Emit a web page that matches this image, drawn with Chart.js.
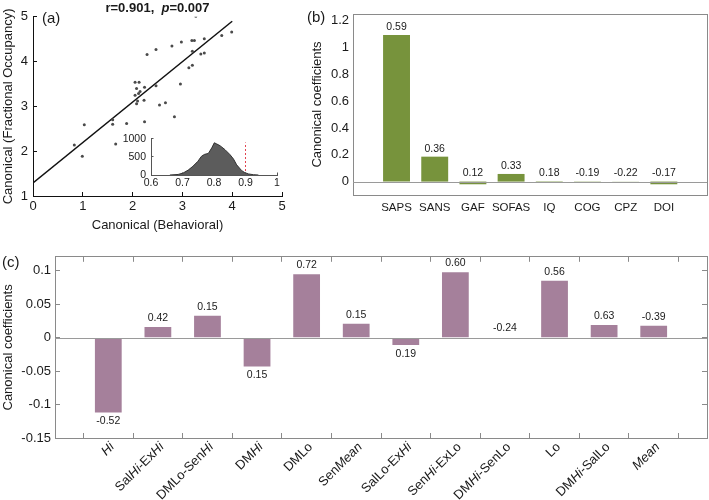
<!DOCTYPE html>
<html>
<head>
<meta charset="UTF-8">
<title>Canonical correlation</title>
<script src="https://cdn.jsdelivr.net/npm/chart.js@4.4.0/dist/chart.umd.min.js"></script>
<style>
  body { margin: 0; background: #fff; }
  #wrap { position: relative; width: 709px; height: 500px; overflow: hidden; }
  canvas { position: absolute; }
  .tag { position: absolute; font: 15px 'Liberation Sans', Arial, sans-serif; line-height: 17px; color: #1a1a1a; }
</style>
</head>
<body>
<div id="wrap">
  <canvas id="scatA" width="300" height="240" style="left:0;top:0"></canvas>
  <canvas id="histA" width="172" height="66" style="left:118px;top:125px"></canvas>
  <canvas id="barB" width="409" height="240" style="left:300px;top:0"></canvas>
  <canvas id="barC" width="709" height="260" style="left:0;top:240px"></canvas>
  <div class="tag" style="left:42px;top:9px">(a)</div>
  <div class="tag" style="left:307px;top:8px">(b)</div>
  <div class="tag" style="left:2px;top:253px">(c)</div>
</div>

<script>
// ---- data ----
var scatterX = [3.27, 3.99, 3.79, 3.44, 3.19, 3.24, 2.98, 2.79, 2.47, 2.29, 3.44, 3.37, 3.20, 3.20, 3.13, 2.96,
  2.05, 2.13, 2.08, 2.24, 2.47, 2.15, 2.12, 2.05, 2.23, 2.08, 2.10, 2.66, 2.54, 2.84, 2.24, 1.88, 1.60, 1.60,
  1.03, 1.66, 0.83, 0.99];
var scatterY = [5.01, 4.66, 4.58, 4.51, 4.47, 4.47, 4.44, 4.35, 4.27, 4.16, 4.19, 4.17, 4.23, 3.92, 3.86, 3.50,
  3.54, 3.54, 3.40, 3.43, 3.46, 3.33, 3.29, 3.25, 3.14, 3.06, 3.12, 3.08, 3.03, 2.77, 2.66, 2.62, 2.70, 2.60,
  2.59, 2.16, 2.14, 1.89];
var fitX = [0, 4];
var fitY = [1.29, 4.90];
var ticksAx = [0, 1, 2, 3, 4, 5];
var ticksAy = [1, 2, 3, 4, 5];

var histX = [0.66, 0.686, 0.702, 0.718, 0.733, 0.749, 0.76, 0.77, 0.782, 0.793, 0.801, 0.808, 0.819,
  0.835, 0.851, 0.862, 0.872, 0.888, 0.898, 0.909, 0.925, 0.941];
var histY = [0, 15, 55, 135, 240, 380, 515, 570, 595, 750, 890, 860, 810, 700, 560, 440, 280, 120, 65, 30, 8, 0];
var observedR = 0.9;
var ticksHx = [0.6, 0.7, 0.8, 0.9, 1];
var ticksHy = [0, 500, 1000];

var catsB = ["SAPS", "SANS", "GAF", "SOFAS", "IQ", "COG", "CPZ", "DOI"];
var valsB = [1.093, 0.186, -0.02, 0.057, -0.003, 0.002, 0.001, -0.02];
var textB = ["0.59", "0.36", "0.12", "0.33", "0.18", "-0.19", "-0.22", "-0.17"];
var ticksBy = [0, 0.2, 0.4, 0.6, 0.8, 1, 1.2];

var catsC = ["Hi", "SalHi-ExHi", "DMLo-SenHi", "DMHi", "DMLo", "SenMean", "SalLo-ExHi", "SenHi-ExLo",
  "DMHi-SenLo", "Lo", "DMHi-SalLo", "Mean"];
var valsC = [-0.112, 0.016, 0.033, -0.043, 0.095, 0.021, -0.011, 0.098, 0.0005, 0.085, 0.019, 0.018];
var textC = ["-0.52", "0.42", "0.15", "0.15", "0.72", "0.15", "0.19", "0.60", "-0.24", "0.56", "0.63", "-0.39"];
var ticksCy = [-0.15, -0.1, -0.05, 0, 0.05, 0.1];

// ---- helpers ----
var FONT = "'Liberation Sans', Arial, sans-serif";
var INK = '#1a1a1a';
var BOX = '#8a8a8a';
Chart.defaults.font.family = FONT;
Chart.defaults.color = INK;
Chart.defaults.animation = false;

function setTicks(vals) {
  return function (scale) { scale.ticks = vals.map(function (v) { return { value: v }; }); };
}
function fixWidth(w) { return function (scale) { scale.width = w; }; }
function fixHeight(h) { return function (scale) { scale.height = h; }; }
function plain(v) { return String(v); }
function positions(list) { return list.map(function (v, i) { return i + 1; }); }
function xyPairs(xs, ys) { return xs.map(function (v, i) { return { x: v, y: ys[i] }; }); }
function indexPairs(ys) { return ys.map(function (v, i) { return { x: i + 1, y: v }; }); }

// grid settings that give only short inward tick marks (negative tick length)
function inwardTicks(color, len) {
  return { display: len > 0, drawOnChartArea: false, drawTicks: len > 0, tickLength: -len, color: color };
}
// empty axis on the far side, used only for the box line and its tick marks
function sideAxis(position, min, max, vals, color, len) {
  var s = {
    type: 'linear', position: position, min: min, max: max, offset: false,
    afterBuildTicks: setTicks(vals),
    grid: inwardTicks(color, len), border: { display: true, color: color },
    ticks: { display: false }
  };
  s.afterFit = (position === 'top') ? fixHeight(0) : fixWidth(0);
  return s;
}

// draws text where some words are italic
function drawRich(ctx, text, x, y, size, weight, italics, align) {
  var re = new RegExp('(' + italics.join('|') + ')');
  var parts = text.split(re).filter(function (s) { return s; });
  var fonts = parts.map(function (p) {
    return (italics.indexOf(p) >= 0 ? 'italic ' : '') + weight + ' ' + size + 'px ' + FONT;
  });
  var widths = parts.map(function (p, k) { ctx.font = fonts[k]; return ctx.measureText(p).width; });
  var total = widths.reduce(function (a, b) { return a + b; }, 0);
  var cx = align === 'right' ? x - total : (align === 'center' ? x - total / 2 : x);
  ctx.textAlign = 'left';
  ctx.textBaseline = 'middle';
  parts.forEach(function (p, k) { ctx.font = fonts[k]; ctx.fillText(p, cx, y); cx += widths[k]; });
}

// gray line at y = 0 across the plot
var zeroLine = {
  id: 'zeroLine',
  afterDraw: function (chart, args, o) {
    if (!o.color) return;
    var ctx = chart.ctx, a = chart.chartArea;
    var zy = Math.round(chart.scales.y.getPixelForValue(0)) + 0.5;
    ctx.save();
    ctx.strokeStyle = o.color;
    ctx.lineWidth = 1;
    ctx.beginPath(); ctx.moveTo(a.left, zy); ctx.lineTo(a.right, zy); ctx.stroke();
    ctx.restore();
  }
};

// numbers written next to each bar
var valueLabels = {
  id: 'valueLabels',
  afterDraw: function (chart, args, o) {
    if (!o.texts) return;
    var ctx = chart.ctx;
    var meta = chart.getDatasetMeta(0);
    ctx.save();
    ctx.fillStyle = INK;
    ctx.font = o.size + 'px ' + FONT;
    ctx.textAlign = 'center';
    ctx.textBaseline = 'middle';
    meta.data.forEach(function (bar, i) {
      var v = chart.data.datasets[0].data[i].y;
      var yy = (v < 0 && o.below) ? Math.max(bar.y, bar.base) + o.gap : Math.min(bar.y, bar.base) - o.gap;
      ctx.fillText(o.texts[i], bar.x, yy);
    });
    ctx.restore();
  }
};

// rotated category labels with italic parts
var richTicks = {
  id: 'richTicks',
  afterDraw: function (chart, args, o) {
    if (!o.labels) return;
    var ctx = chart.ctx, a = chart.chartArea, x = chart.scales.x;
    ctx.save();
    ctx.fillStyle = INK;
    o.labels.forEach(function (lab, i) {
      var px = x.getPixelForValue(i + 1);
      ctx.save();
      ctx.translate(px + o.dx, a.bottom + o.dy);
      ctx.rotate(-Math.PI / 4);
      drawRich(ctx, lab, 0, 0, o.size, 'normal', o.italics, 'right');
      ctx.restore();
    });
    ctx.restore();
  }
};

// title above panel (a)
var richTitle = {
  id: 'richTitle',
  afterDraw: function (chart, args, o) {
    if (!o.text) return;
    var ctx = chart.ctx, a = chart.chartArea;
    ctx.save();
    ctx.fillStyle = INK;
    drawRich(ctx, o.text, (a.left + a.right) / 2, a.top - o.gap, o.size, 'bold', o.italics, 'center');
    ctx.restore();
  }
};

Chart.register(zeroLine, valueLabels, richTicks, richTitle);

// ---- (a) scatter with fitted line ----
new Chart('scatA', {
  type: 'scatter',
  data: {
    datasets: [{
      data: xyPairs(scatterX, scatterY),
      pointRadius: 1.5, pointBackgroundColor: '#4a4a4a', pointBorderWidth: 0
    }, {
      data: xyPairs(fitX, fitY),
      showLine: true, pointRadius: 0, borderColor: '#111', borderWidth: 1.5
    }]
  },
  options: {
    responsive: false,
    layout: { padding: { top: 15, right: 18, left: 0, bottom: 0 } },
    plugins: {
      legend: { display: false }, tooltip: { enabled: false },
      richTitle: { text: 'r=0.901,  p=0.007', italics: ['p'], size: 13, gap: 8.5 }
    },
    scales: {
      x: {
        type: 'linear', min: 0, max: 5, afterBuildTicks: setTicks(ticksAx), afterFit: fixHeight(44),
        grid: inwardTicks('#111', 4), border: { display: true, color: '#111' },
        ticks: { font: { size: 13 }, padding: 7, callback: plain },
        title: { display: true, text: 'Canonical (Behavioral)', font: { size: 13 }, padding: { top: 0, bottom: 7 } }
      },
      y: {
        min: 1, max: 5, afterBuildTicks: setTicks(ticksAy), afterFit: fixWidth(33),
        grid: inwardTicks('#111', 4), border: { display: true, color: '#111' },
        ticks: { font: { size: 13 }, padding: 9, callback: plain },
        title: { display: true, text: 'Canonical (Fractional Occupancy)', font: { size: 13 }, padding: { top: 1, bottom: 0 } }
      }
    }
  }
});

// ---- (a) inset: null distribution ----
new Chart('histA', {
  type: 'line',
  data: {
    datasets: [{
      data: xyPairs(histX, histY),
      fill: 'origin', backgroundColor: '#5c5c5c', borderColor: '#333', borderWidth: 1, pointRadius: 0
    }, {
      data: [{ x: observedR, y: 0 }, { x: observedR, y: 900 }],
      borderColor: '#e2434f', borderWidth: 1, borderDash: [2, 2], pointRadius: 0
    }]
  },
  options: {
    responsive: false,
    layout: { padding: { top: 8, right: 13, left: 0, bottom: 0 } },
    plugins: { legend: { display: false }, tooltip: { enabled: false } },
    scales: {
      x: {
        type: 'linear', min: 0.6, max: 1, afterBuildTicks: setTicks(ticksHx), afterFit: fixHeight(16),
        grid: inwardTicks('#555', 2.5), border: { display: true, color: '#555' },
        ticks: { font: { size: 10.5 }, padding: 4.5, callback: plain }
      },
      y: {
        min: 0, max: 1000, afterBuildTicks: setTicks(ticksHy), afterFit: fixWidth(33),
        grid: inwardTicks('#555', 2.5), border: { display: true, color: '#555' },
        ticks: { font: { size: 10.5 }, padding: 7.5, callback: plain }
      }
    }
  }
});

// ---- (b) clinical canonical coefficients ----
new Chart('barB', {
  type: 'bar',
  data: {
    datasets: [{
      data: indexPairs(valsB),
      backgroundColor: '#77933c', categoryPercentage: 1, barPercentage: 0.705
    }]
  },
  options: {
    responsive: false,
    layout: { padding: { top: 14, right: 2, left: 0, bottom: 0 } },
    plugins: {
      legend: { display: false }, tooltip: { enabled: false },
      zeroLine: { color: '#9a9a9a' },
      valueLabels: { texts: textB, size: 10.5, gap: 8, below: false }
    },
    scales: {
      x: {
        type: 'linear', offset: false, min: -0.14, max: 9.13, afterBuildTicks: setTicks(positions(catsB)),
        afterFit: fixHeight(45), grid: inwardTicks(BOX, 0), border: { display: true, color: BOX },
        ticks: { font: { size: 11.5 }, padding: 6, autoSkip: false, maxRotation: 0, callback: function (v) { return catsB[v - 1]; } }
      },
      y: {
        min: -0.1, max: 1.25, afterBuildTicks: setTicks(ticksBy), afterFit: fixWidth(53),
        grid: inwardTicks(BOX, 0), border: { display: true, color: BOX },
        ticks: { font: { size: 13 }, padding: 4, callback: plain },
        title: { display: true, text: 'Canonical coefficients', font: { size: 13 }, padding: { top: 10, bottom: 0 } }
      },
      x2: sideAxis('top', -0.14, 9.13, positions(catsB), BOX, 0),
      y2: sideAxis('right', -0.1, 1.25, ticksBy, BOX, 0)
    }
  }
});

// ---- (c) network state canonical coefficients ----
new Chart('barC', {
  type: 'bar',
  data: {
    datasets: [{
      data: indexPairs(valsC),
      backgroundColor: '#a5809b', categoryPercentage: 1, barPercentage: 0.54
    }]
  },
  options: {
    responsive: false,
    layout: { padding: { top: 16, right: 2, left: 0, bottom: 0 } },
    plugins: {
      legend: { display: false }, tooltip: { enabled: false },
      zeroLine: { color: '#9a9a9a' },
      valueLabels: { texts: textC, size: 10.5, gap: 9, below: true },
      richTicks: { labels: catsC, italics: ['Hi', 'Mean'], size: 13, dx: 4, dy: 7 }
    },
    scales: {
      x: {
        type: 'linear', offset: false, min: -0.075, max: 13.075, afterBuildTicks: setTicks(positions(catsC)),
        afterFit: fixHeight(62), grid: inwardTicks(BOX, 5), border: { display: true, color: BOX },
        ticks: { display: false }
      },
      y: {
        min: -0.15, max: 0.121, afterBuildTicks: setTicks(ticksCy), afterFit: fixWidth(55),
        grid: inwardTicks(BOX, 5), border: { display: true, color: BOX },
        ticks: { font: { size: 13 }, padding: 9, callback: plain },
        title: { display: true, text: 'Canonical coefficients', font: { size: 13 }, padding: { top: 1, bottom: 0 } }
      },
      x2: sideAxis('top', -0.075, 13.075, positions(catsC), BOX, 5),
      y2: sideAxis('right', -0.15, 0.121, ticksCy, BOX, 5)
    }
  }
});
</script>
</body>
</html>
